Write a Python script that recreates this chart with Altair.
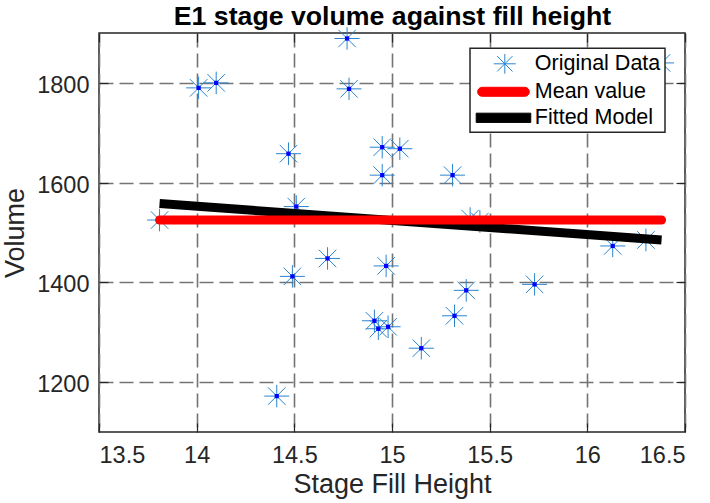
import altair as alt
import pandas as pd

# ---- data ----
x_vals = [14.01, 14.10, 14.77, 14.78, 14.47, 14.95, 15.04, 14.95, 15.31, 14.51,
          13.81, 14.67, 14.49, 14.97, 14.91, 14.93, 14.98, 14.41, 15.15, 15.32,
          15.38, 15.73, 16.13, 16.30, 16.38, 15.40, 15.45]
y_vals = [1790, 1800, 1889, 1788, 1658, 1671, 1668, 1615, 1615, 1552,
          1525, 1448, 1412, 1433, 1323, 1307, 1311, 1172, 1268, 1333,
          1384, 1396, 1473, 1485, 1840, 1528, 1522]
mean_x = [13.81, 16.38]
mean_y = [1525, 1525]
fit_x = [13.81, 16.38]
fit_y = [1558, 1485]
series_names = ["Original Data", "Mean value", "Fitted Model"]
x_ticks = [13.5, 14, 14.5, 15, 15.5, 16, 16.5]
y_ticks = [1200, 1400, 1600, 1800]
title_text = "E1 stage volume against fill height"

pts = pd.DataFrame({"x": x_vals, "y": y_vals, "series": series_names[0]})
mean_df = pd.DataFrame({"x": mean_x, "y": mean_y, "series": series_names[1]})
fit_df = pd.DataFrame({"x": fit_x, "y": fit_y, "series": series_names[2]})

STAR = "M-1,0L1,0M0,-0.9L0,0.9M-0.7,-0.7L0.7,0.7M-0.7,0.7L0.7,-0.7"
RED_BAR = ("M-2.06,-0.41L1.82,-0.41A0.41,0.41 0 0 1 1.82,0.41"
           "L-2.06,0.41A0.41,0.41 0 0 1 -2.06,-0.41Z")
BLACK_BAR = "M-2.6,-0.42L2.36,-0.42L2.36,0.42L-2.6,0.42Z"

colors = ["#2a85cf", "#FF0000", "#000000"]
FONT = "Liberation Sans"
AX = "#262626"
NBSP = "\u00a0"

x_scale = alt.Scale(domain=[13.5, 16.5], nice=False, zero=False)
y_scale = alt.Scale(domain=[1100, 1900], nice=False, zero=False)
fill_scale = alt.Scale(domain=series_names, range=colors)
stroke_scale = alt.Scale(domain=series_names, range=colors)
shape_scale = alt.Scale(domain=series_names, range=[STAR, RED_BAR, BLACK_BAR])

legend = alt.Legend(
    title=None, orient="none", legendX=371, legendY=15.3,
    padding=4, symbolSize=484, symbolOffset=19.3, symbolStrokeWidth=1,
    symbolFillColor="transparent",
    labelOffset=18.5, labelFontSize=21.5, labelFont=FONT, labelColor="#000000",
    labelExpr="datum.label + '" + NBSP + NBSP + "'",
    rowPadding=4, strokeColor=AX, fillColor="white",
)

TICK = 9
grid_common = dict(grid=True, gridColor="#747474", gridDash=[14, 6], gridWidth=1.6)

x_axis_main = alt.Axis(
    orient="bottom", values=x_ticks, format="~g", domain=False,
    tickSize=TICK, offset=-TICK, tickColor=AX, tickWidth=1.2,
    labelPadding=11, labelFont=FONT, labelFontSize=23.5, labelColor=AX,
    title="Stage Fill Height", titleFont=FONT, titleFontSize=27,
    titleFontWeight="normal", titleColor=AX, titlePadding=5, **grid_common,
)
y_axis_main = alt.Axis(
    orient="left", values=y_ticks, format="d", domain=False,
    tickSize=TICK, offset=-TICK, tickColor=AX, tickWidth=1.2,
    labelPadding=10, labelOffset=2.5, labelFont=FONT, labelFontSize=23.5,
    labelColor=AX, title="Volume", titleFont=FONT, titleFontSize=27,
    titleFontWeight="normal", titleColor=AX, titlePadding=7, **grid_common,
)
x_axis_top = alt.Axis(
    orient="top", values=x_ticks, domain=False, labels=False, grid=False,
    tickSize=TICK, offset=-TICK, tickColor=AX, tickWidth=1.2,
    title=title_text, titleFont=FONT, titleFontSize=26.7, titleFontWeight="bold",
    titleColor="#000000", titleBaseline="alphabetic", titlePadding=8,
)
y_axis_right = alt.Axis(
    orient="right", values=y_ticks, domain=False, labels=False, grid=False,
    tickSize=TICK, offset=-TICK, tickColor=AX, tickWidth=1.2, title=None,
)

stars = alt.Chart(pts).mark_point(size=625, strokeWidth=1, opacity=1).encode(
    x=alt.X("x:Q", scale=x_scale, axis=x_axis_main),
    y=alt.Y("y:Q", scale=y_scale, axis=y_axis_main),
    fill=alt.Fill("series:N", scale=fill_scale, legend=legend),
    stroke=alt.Stroke("series:N", scale=stroke_scale, legend=legend),
    shape=alt.Shape("series:N", scale=shape_scale, legend=legend),
)

dots = alt.Chart(pts).mark_square(size=18, color="#0000FF", opacity=1).encode(
    x=alt.X("x:Q", scale=x_scale, axis=None),
    y=alt.Y("y:Q", scale=y_scale, axis=None),
)

fit_line = alt.Chart(fit_df).mark_line(strokeWidth=9, strokeCap="butt").encode(
    x=alt.X("x:Q", scale=x_scale, axis=None),
    y=alt.Y("y:Q", scale=y_scale, axis=None),
    stroke=alt.Stroke("series:N", scale=stroke_scale, legend=legend),
)

mean_line = alt.Chart(mean_df).mark_line(strokeWidth=9, strokeCap="round").encode(
    x=alt.X("x:Q", scale=x_scale, axis=x_axis_top),
    y=alt.Y("y:Q", scale=y_scale, axis=y_axis_right),
    stroke=alt.Stroke("series:N", scale=stroke_scale, legend=legend),
)

chart = (
    alt.layer(stars, dots, fit_line, mean_line)
    .resolve_axis(x="independent", y="independent")
    .properties(
        width=586, height=399,
        autosize=alt.AutoSizeParams(type="none"),
        padding={"left": 99, "top": 33, "right": 25, "bottom": 71},
        background="white",
    )
    .configure_view(stroke=AX, strokeWidth=1.5)
    .configure_legend(strokeWidth=1.5)
)

chart.save("out.html", embed_options={"renderer": "svg", "actions": False})
